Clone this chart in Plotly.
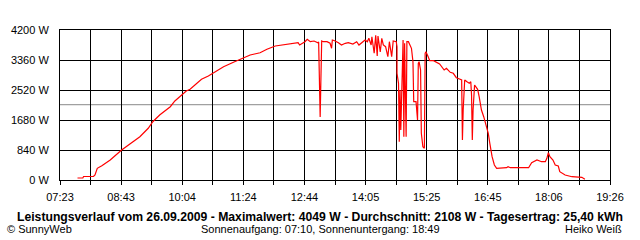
import plotly.graph_objects as go
import pandas as pd

DAY = "2009-09-26"

times = [
    "07:46", "07:53", "07:54", "08:07", "08:09", "08:12", "08:18", "08:29", "08:44", "08:57",
    "09:08", "09:19", "09:25", "09:34", "09:48", "09:54", "10:03", "10:09", "10:14", "10:23",
    "10:29", "10:38", "10:44", "10:53", "10:58", "11:11", "11:20", "11:24", "11:33", "11:46",
    "11:55", "12:06", "12:21", "12:36", "12:38", "12:45", "12:48", "12:52", "12:57", "13:02",
    "13:03", "13:04", "13:04", "13:05", "13:06", "13:07", "13:09", "13:14", "13:18", "13:20",
    "13:21", "13:24", "13:29", "13:33", "13:38", "13:42", "13:48", "13:53", "13:56", "14:00",
    "14:04", "14:07", "14:09", "14:12", "14:13", "14:16", "14:18", "14:20", "14:21", "14:24",
    "14:26", "14:28", "14:31", "14:34", "14:36", "14:39", "14:41", "14:45", "14:46", "14:46",
    "14:48", "14:49", "14:50", "14:51", "14:52", "14:54", "14:55", "14:56", "14:58", "14:59",
    "15:01", "15:03", "15:05", "15:07", "15:08", "15:11", "15:13", "15:14", "15:15", "15:17",
    "15:18", "15:20", "15:22", "15:23", "15:24", "15:27", "15:29", "15:34", "15:38", "15:42",
    "15:48", "15:51", "15:56", "16:00", "16:04", "16:07", "16:09", "16:11", "16:12", "16:13",
    "16:15", "16:18", "16:21", "16:23", "16:24", "16:25", "16:26", "16:28", "16:30", "16:32",
    "16:34", "16:37", "16:40", "16:44", "16:46", "16:48", "16:51", "16:54", "16:57", "17:10",
    "17:12", "17:15", "17:39", "17:43", "17:50", "17:56", "18:01", "18:03", "18:05", "18:07",
    "18:11", "18:14", "18:18", "18:20", "18:27", "18:36", "18:44", "18:49", "18:53",
]

power_w = [
    56, 56, 98, 98, 140, 328, 400, 560, 840, 1028,
    1212, 1448, 1632, 1820, 2052, 2212, 2380, 2492, 2540, 2708,
    2820, 2912, 2988, 3100, 3172, 3296, 3380, 3436, 3500, 3564,
    3660, 3752, 3800, 3844, 3780, 3872, 3940, 3872, 3892, 3844,
    3864, 3000, 2548, 1764, 2856, 3892, 3872, 3872, 3828, 3688,
    3920, 3900, 3844, 3780, 3828, 3844, 3808, 3872, 3780, 3844,
    3920, 3872, 3968, 3780, 4012, 3548, 4049, 3472, 4032, 3584,
    3968, 3780, 3732, 3452, 3872, 3452, 3892, 3872, 3732, 2988,
    2708, 1072, 2520, 1400, 2568, 3920, 1212, 3828, 1212, 3872,
    3872, 3780, 3688, 3312, 2192, 2192, 1680, 3268, 3312, 3080,
    1308, 932, 888, 3548, 3592, 3452, 3340, 3340, 3296, 3248,
    3080, 3128, 3016, 2988, 2864, 2848, 2820, 2800, 1120, 1960,
    2800, 2752, 2708, 2752, 2380, 1120, 1960, 2660, 2612, 2540,
    2332, 1960, 1772, 1492, 1308, 1028, 652, 420, 328, 344,
    372, 344, 344, 484, 560, 512, 512, 608, 764, 652,
    560, 420, 392, 232, 140, 92, 76, 76, 20,
]

y_ticks = [0, 840, 1680, 2520, 3360, 4200]
x_start, x_end = "07:23", "19:26"
x_labels = ["07:23", "08:43", "10:04", "11:24", "12:44", "14:05", "15:25", "16:45", "18:06", "19:26"]
average_w = 2108

title_text = ("Leistungsverlauf vom 26.09.2009 - Maximalwert: 4049 W - "
              "Durchschnitt: 2108 W - Tagesertrag: 25,40 kWh")
footer_left = "© SunnyWeb"
footer_mid = "Sonnenaufgang: 07:10, Sonnenuntergang: 18:49"
footer_right = "Heiko Weiß"

x = [f"{DAY} {t}" for t in times]
grid = pd.date_range(f"{DAY} {x_start}", f"{DAY} {x_end}", periods=19)
tickvals = [g.strftime("%Y-%m-%d %H:%M:%S") for g in grid]
ticktext = []
for i in range(19):
    ticktext.append(x_labels[i // 2] if i % 2 == 0 else "")

FONT = "Liberation Sans, Arial, sans-serif"

fig = go.Figure()
fig.add_trace(go.Scatter(x=x, y=power_w, mode="lines",
                         line=dict(color="#ff0000", width=1.2), hoverinfo="skip"))

fig.add_shape(type="line", xref="paper", x0=0, x1=1, yref="y", y0=average_w, y1=average_w,
              line=dict(color="#888888", width=1), layer="below")

fig.update_layout(
    width=640, height=240,
    margin=dict(l=60, r=30, t=30, b=60),
    paper_bgcolor="white", plot_bgcolor="white",
    showlegend=False,
    font=dict(family=FONT, size=11, color="black"),
)
fig.update_xaxes(
    type="date",
    range=[f"{DAY} {x_start}", f"{DAY} {x_end}"],
    tickmode="array", tickvals=tickvals, ticktext=ticktext,
    showgrid=True, gridcolor="black", gridwidth=1,
    ticks="outside", ticklen=4, tickcolor="black", tickwidth=1,
    showline=True, linecolor="black", linewidth=1, mirror=True,
    zeroline=False, tickfont=dict(family=FONT, size=11),
    ticklabelstandoff=3,
)
fig.update_yaxes(
    range=[0, 4200], tickmode="array", tickvals=y_ticks,
    ticktext=[f"{v} W" for v in y_ticks],
    showgrid=True, gridcolor="black", gridwidth=1,
    showline=True, linecolor="black", linewidth=1, mirror=True,
    zeroline=False, ticks="", ticklabelstandoff=8,
    tickfont=dict(family=FONT, size=11),
)

px_to_px = lambda px: (px - 60) / 550.0
py_to_py = lambda py: (180 - py) / 150.0

fig.add_annotation(text=f"<b>{title_text}</b>", xref="paper", yref="paper",
                   x=px_to_px(320), y=py_to_py(216.5), xanchor="center", yanchor="middle",
                   showarrow=False, font=dict(family=FONT, size=12.2))
fig.add_annotation(text=footer_left, xref="paper", yref="paper",
                   x=px_to_px(5), y=py_to_py(229), xanchor="left", yanchor="middle",
                   showarrow=False, font=dict(family=FONT, size=11))
fig.add_annotation(text=footer_mid, xref="paper", yref="paper",
                   x=px_to_px(320), y=py_to_py(229), xanchor="center", yanchor="middle",
                   showarrow=False, font=dict(family=FONT, size=11))
fig.add_annotation(text=footer_right, xref="paper", yref="paper",
                   x=px_to_px(624), y=py_to_py(229), xanchor="right", yanchor="middle",
                   showarrow=False, font=dict(family=FONT, size=11))

fig.write_html("out.html")
